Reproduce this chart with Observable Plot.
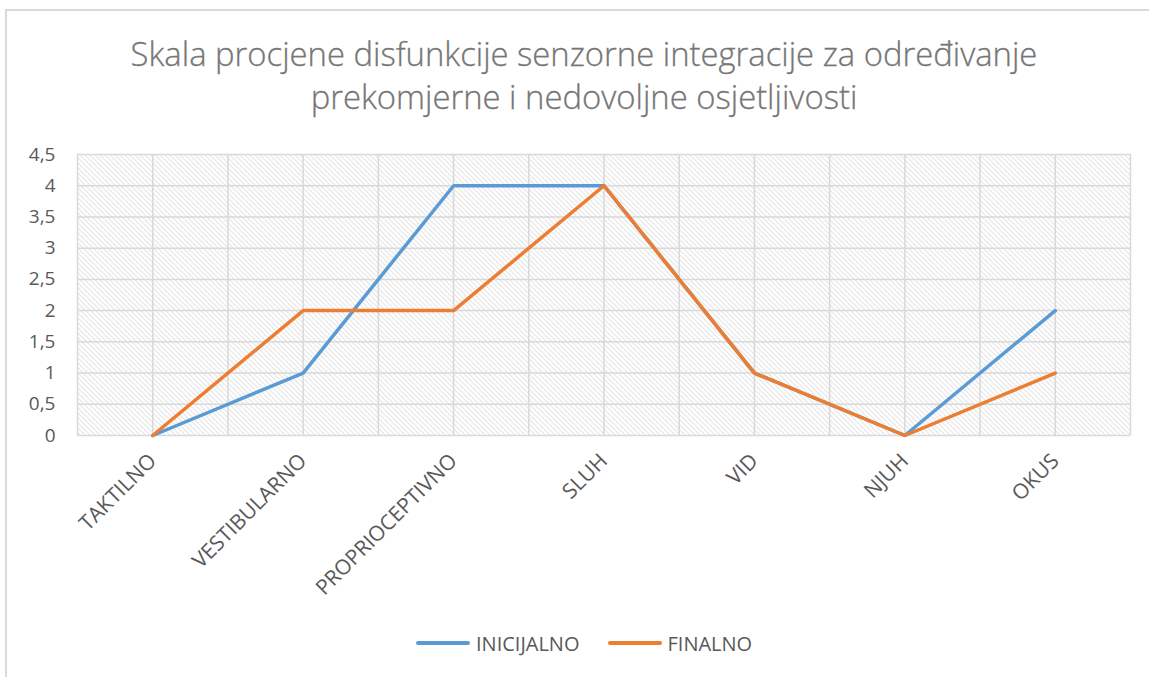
<!DOCTYPE html>
<html><head><meta charset="utf-8">
<script src="https://cdn.jsdelivr.net/npm/d3@7"></script>
<script src="https://cdn.jsdelivr.net/npm/@observablehq/plot@0.6"></script>
<style>
body{margin:0;background:#fff;}
#wrap{position:relative;width:1149px;height:677px;overflow:hidden;font-family:"Open Sans",sans-serif;}
#border{position:absolute;left:5px;top:9px;width:1300px;height:800px;border:2px solid #d9d9d9;box-sizing:border-box;}
#chart{position:absolute;left:0;top:0;}
#title{position:absolute;left:0;width:1168px;top:32px;text-align:center;color:#767676;font-size:32.8px;line-height:43px;font-weight:300;-webkit-text-stroke:0.3px #767676;}
#legend{position:absolute;top:630px;left:416px;height:26px;display:flex;align-items:center;color:#595959;font-size:20px;}
.item{display:flex;align-items:center;margin-right:28px;}
.sw{display:inline-block;width:54px;height:4px;border-radius:2px;margin-right:6px;}
</style></head>
<body>
<div id="wrap">
  <div id="border"></div>
  <div id="chart"></div>
  <div id="title"></div>
  <div id="legend"></div>
</div>
<script>
const titleLines = ["Skala procjene disfunkcije senzorne integracije za određivanje", "prekomjerne i nedovoljne osjetljivosti"];
const categories = ["TAKTILNO","VESTIBULARNO","PROPRIOCEPTIVNO","SLUH","VID","NJUH","OKUS"];
const seriesNames = ["INICIJALNO","FINALNO"];
const seriesColors = ["#5B9BD5","#ED7D31"];
const inicijalno = [0,1,4,4,1,0,2];
const finalno = [0,2,2,4,1,0,1];
const yTicks = [0,0.5,1,1.5,2,2.5,3,3.5,4,4.5];

const seriesValues = [inicijalno, finalno];
const data = seriesNames.flatMap((name, k) => seriesValues[k].map((v, i) => ({i, v, s: name})));
const catIdx = categories.map((c, i) => i);
const xGrid = d3.range(-0.5, categories.length, 0.5);

const svg = Plot.plot({
  width: 1149, height: 677,
  marginLeft: 77, marginRight: 19, marginTop: 154, marginBottom: 242,
  style: {fontFamily: "'Open Sans', sans-serif", fontSize: "19px", color: "#595959", background: "transparent"},
  x: {domain: [-0.5, categories.length - 0.5], axis: null},
  y: {domain: [0, 4.5], axis: null},
  color: {domain: seriesNames, range: seriesColors},
  marks: [
    Plot.frame({fill: "url(#hatch)", stroke: null}),
    Plot.ruleY(yTicks, {stroke: "#d9d9d9", strokeWidth: 1.5}),
    Plot.ruleX(xGrid, {stroke: "#d9d9d9", strokeWidth: 1.5}),
    Plot.axisY({ticks: yTicks, label: null, tickSize: 0, tickPadding: 22, fontSize: 19, tickFormat: d => String(d).replace(".", ",")}),
    Plot.axisX({ticks: catIdx, label: null, tickSize: 0, tickPadding: 22, fontSize: 21, tickRotate: -45, tickFormat: i => categories[i]}),
    Plot.line(data, {x: "i", y: "v", stroke: "s", z: "s", strokeWidth: 3.5, strokeLinecap: "round", strokeLinejoin: "round"})
  ]
});

const defs = d3.select(svg).insert("defs", ":first-child");
const p = defs.append("pattern").attr("id", "hatch").attr("patternUnits", "userSpaceOnUse").attr("width", 5).attr("height", 5);
p.append("rect").attr("width", 5).attr("height", 5).attr("fill", "#fff");
p.append("path").attr("d", "M0,0L5,5M-1,4L1,6M4,-1L6,1").attr("stroke", "#d4d4d4").attr("stroke-width", 1);

document.getElementById("chart").appendChild(svg);
document.getElementById("title").innerHTML = titleLines.join("<br>");
const leg = d3.select("#legend");
seriesNames.forEach((n, k) => {
  const it = leg.append("div").attr("class", "item");
  it.append("span").attr("class", "sw").style("background", seriesColors[k]);
  it.append("span").text(n);
});
</script>
</body></html>
